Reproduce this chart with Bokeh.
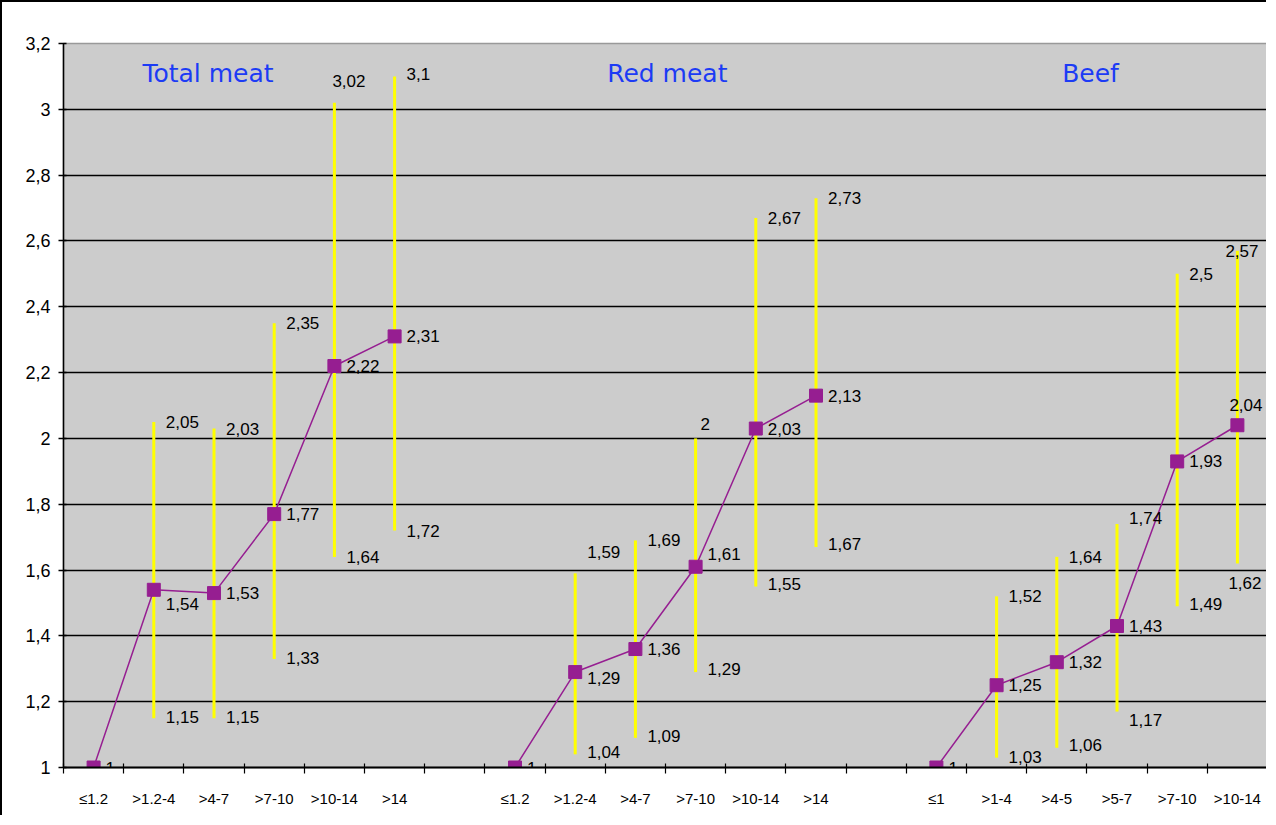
from bokeh.plotting import figure
from bokeh.models import ColumnDataSource, FixedTicker, CustomJSTickFormatter
from bokeh.core.properties import value
from bokeh.embed import file_html
from bokeh.resources import INLINE

# ---------------- data ----------------
groups = ["Total meat", "Red meat", "Beef"]

total_cats = ["≤1.2", ">1.2-4", ">4-7", ">7-10", ">10-14", ">14"]
red_cats = ["≤1.2", ">1.2-4", ">4-7", ">7-10", ">10-14", ">14"]
beef_cats = ["≤1", ">1-4", ">4-5", ">5-7", ">7-10", ">10-14"]

total_mean = [1, 1.54, 1.53, 1.77, 2.22, 2.31]
total_upper = [None, 2.05, 2.03, 2.35, 3.02, 3.1]
total_lower = [None, 1.15, 1.15, 1.33, 1.64, 1.72]

red_mean = [1, 1.29, 1.36, 1.61, 2.03, 2.13]
red_upper = [None, 1.59, 1.69, 2.0, 2.67, 2.73]
red_lower = [None, 1.04, 1.09, 1.29, 1.55, 1.67]

beef_mean = [1, 1.25, 1.32, 1.43, 1.93, 2.04]
beef_upper = [None, 1.52, 1.64, 1.74, 2.5, 2.57]
beef_lower = [None, 1.03, 1.06, 1.17, 1.49, 1.62]

y_ticks = [1.0, 1.2, 1.4, 1.6, 1.8, 2.0, 2.2, 2.4, 2.6, 2.8, 3.0, 3.2]

# ---------------- style (label nudges in pixels) ----------------
mean_dx = [[0] * 6, [0] * 6, [0, 0, 0, 0, 0, -20]]
mean_dy = [[0, 14, 0, 0, 0, 0], [0, 6, 0, -13, 0, 0], [0, 0, 0, 0, 0, -20]]
upper_dx = [[0, 0, 0, 0, -14, 0], [0, 0, 0, -7, 0, 0], [0, 0, 0, 0, 0, -24]]
upper_dy = [[0, 0, 0, 0, -22, -2], [0, -21, 0, -14, 0, 0], [0, 0, 0, -6, 0, 0]]
lower_dx = [[0] * 6, [0] * 6, [0, 0, 0, 0, 0, -21]]
lower_dy = [[0, -1, -1, -1, 0, 0], [0, -2, -2, -3, -3, -3], [0, -1, -3, 8, -2, 20]]
title_pos = [(1.9, 3.11), (9.53, 3.11), (16.56, 3.11)]

PURPLE = "#961e91"
YELLOW = "#ffff00"
LABEL_FONT = "Liberation Sans"
BASE_DX = 12

def fmt(v):
    return f"{v:g}".replace(".", ",")

cats_all = [total_cats, red_cats, beef_cats]
means_all = [total_mean, red_mean, beef_mean]
uppers_all = [total_upper, red_upper, beef_upper]
lowers_all = [total_lower, red_lower, beef_lower]

p = figure(width=1266, height=815, output_backend="svg", toolbar_location=None,
           x_range=(-0.5, 19.5), y_range=(1.0, 3.2),
           min_border_left=61, min_border_top=41, min_border_right=1, min_border_bottom=50)
p.styles = {"border-top": "2px solid black", "border-left": "2px solid black"}
p.background_fill_color = "#cccccc"
p.border_fill_color = "white"
p.outline_line_color = "#999999"
p.outline_line_width = 1.5

tick_pos = []
tick_labels = {}
for gi, cats in enumerate(cats_all):
    for i, c in enumerate(cats):
        xi = gi * 7 + i
        tick_pos.append(xi)
        tick_labels[xi] = c

# x axis
p.xaxis.ticker = FixedTicker(ticks=tick_pos, minor_ticks=[k + 0.5 for k in range(-1, 20)])
p.xaxis.major_label_overrides = tick_labels
p.xaxis.major_tick_in = 0
p.xaxis.major_tick_out = 0
p.xaxis.minor_tick_in = 4
p.xaxis.minor_tick_out = 6
p.xaxis.minor_tick_line_color = "black"
p.xaxis.minor_tick_line_width = 1.2
p.xaxis.axis_line_color = "black"
p.xaxis.axis_line_width = 2
p.xaxis.major_label_standoff = 16
p.xaxis.major_label_text_font = LABEL_FONT
p.xaxis.major_label_text_font_size = "15px"
p.xaxis.major_label_text_color = "black"
p.xgrid.visible = False

# y axis
p.yaxis.ticker = FixedTicker(ticks=y_ticks, minor_ticks=[])
p.yaxis.formatter = CustomJSTickFormatter(
    code="const s = Math.round(tick*10)/10; return String(s).replace('.', ',');")
p.yaxis.major_tick_in = 3
p.yaxis.major_tick_out = 5
p.yaxis.major_tick_line_color = "black"
p.yaxis.major_tick_line_width = 1.5
p.yaxis.minor_tick_line_color = None
p.yaxis.axis_line_color = "black"
p.yaxis.axis_line_width = 1.5
p.yaxis.major_label_standoff = 8
p.yaxis.major_label_text_font = LABEL_FONT
p.yaxis.major_label_text_font_size = "18px"
p.yaxis.major_label_text_color = "black"
p.ygrid.ticker = FixedTicker(ticks=y_ticks)
p.ygrid.grid_line_color = "black"
p.ygrid.grid_line_width = 1.5

for gi in range(3):
    xs = [gi * 7 + i for i in range(len(cats_all[gi]))]
    m = means_all[gi]
    up = uppers_all[gi]
    lo = lowers_all[gi]
    idx = [i for i in range(len(xs)) if up[i] is not None]

    bars = ColumnDataSource(dict(
        x=[xs[i] for i in idx], lo=[lo[i] for i in idx], up=[up[i] for i in idx]))
    p.segment(x0="x", y0="lo", x1="x", y1="up", source=bars,
              line_color=YELLOW, line_width=3)

    p.line(xs, m, line_color=PURPLE, line_width=1.5)
    p.scatter(xs, m, marker="square", size=13, fill_color=PURPLE, line_color=PURPLE)

    lab = ColumnDataSource(dict(
        x=xs + [xs[i] for i in idx] + [xs[i] for i in idx],
        y=m + [up[i] for i in idx] + [lo[i] for i in idx],
        t=[fmt(v) for v in m] + [fmt(up[i]) for i in idx] + [fmt(lo[i]) for i in idx],
        dx=[BASE_DX + d for d in mean_dx[gi]]
           + [BASE_DX + upper_dx[gi][i] for i in idx]
           + [BASE_DX + lower_dx[gi][i] for i in idx],
        dy=mean_dy[gi] + [upper_dy[gi][i] for i in idx] + [lower_dy[gi][i] for i in idx],
    ))
    p.text(x="x", y="y", text="t", source=lab, x_offset="dx", y_offset="dy",
           text_align="left", text_baseline="middle",
           text_font=value(LABEL_FONT), text_font_size="17px", text_color="black")

tsrc = ColumnDataSource(dict(x=[t[0] for t in title_pos], y=[t[1] for t in title_pos], t=groups))
p.text(x="x", y="y", text="t", source=tsrc, text_align="center", text_baseline="middle",
       text_font=value("DejaVu Sans"), text_font_size="25px", text_color="#1c3bf5")

open("out.html", "w").write(file_html(p, INLINE))
